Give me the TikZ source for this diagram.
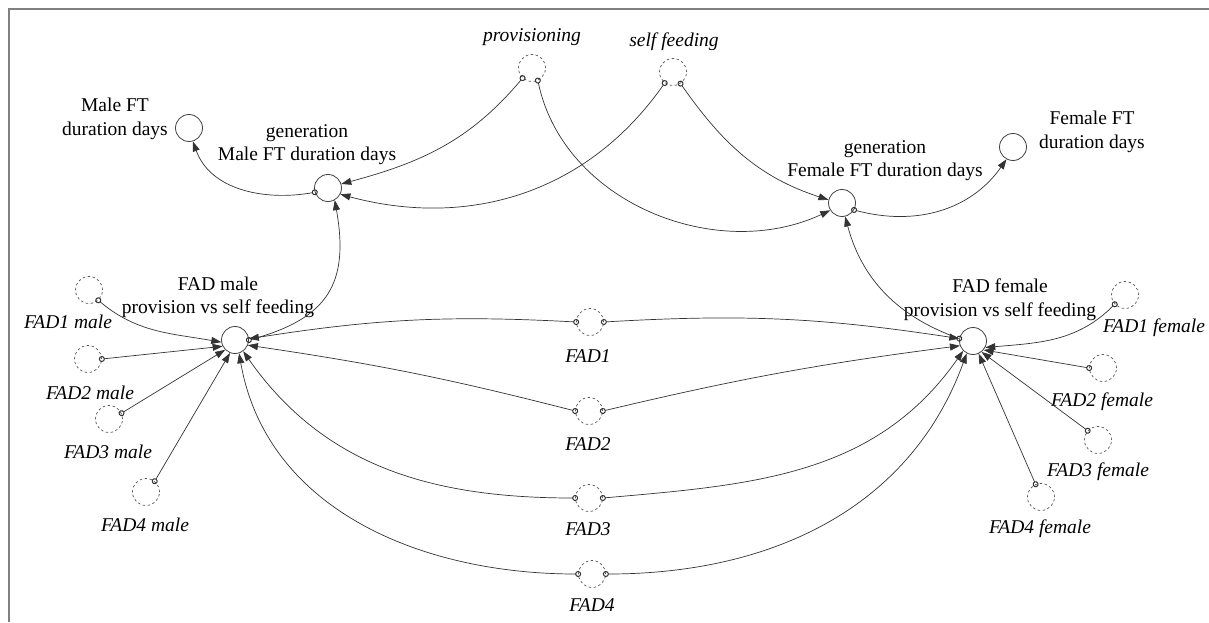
\documentclass[tikz,border=0pt]{standalone}
\usepackage{fontspec}
\setmainfont{Liberation Serif}
\usetikzlibrary{arrows.meta}
\tikzset{
  svar/.style={circle,draw=black!75,line width=0.8pt,minimum size=27pt,inner sep=0pt},
  gvar/.style={circle,draw=black!65,line width=0.7pt,dash pattern=on 2.5pt off 2.5pt,minimum size=27pt,inner sep=0pt},
  lbl/.style={align=center,inner sep=0pt,font=\fontsize{19.5}{23.5}\selectfont},
  ilbl/.style={align=center,inner sep=0pt,font=\fontsize{19.5}{23.5}\selectfont\itshape},
  conn/.style={draw=black!80,line width=0.7pt,shorten <=-3pt,{Circle[open,length=6pt,width=6pt,line width=1pt]}-{Triangle[length=10pt,width=7pt]}},
  frame/.style={draw=black!50,line width=2pt}
}
\begin{document}
\begin{tikzpicture}[x=1pt,y=1pt]
\useasboundingbox (0,0) rectangle (1209,622);
\draw[frame] (8.5,0) -- (8.5,613) -- (1209,613);

% variables
\node[svar] (mft) at (189,494) {};
\node[svar] (gm) at (328,434) {};
\node[gvar] (prov) at (532,554) {};
\node[gvar] (selff) at (673,550) {};
\node[svar] (gf) at (842,419) {};
\node[svar] (fft) at (1013,475) {};
\node[svar] (fm) at (235,282) {};
\node[svar] (ff) at (973,281) {};
\node[gvar] (m1) at (89,332) {};
\node[gvar] (m2) at (88,263) {};
\node[gvar] (m3) at (109,203) {};
\node[gvar] (m4) at (146,130) {};
\node[gvar] (f1) at (1125,327) {};
\node[gvar] (f2) at (1103,254) {};
\node[gvar] (f3) at (1098,182) {};
\node[gvar] (f4) at (1041,125) {};
\node[gvar] (d1) at (590,300) {};
\node[gvar] (d2) at (589,211) {};
\node[gvar] (d3) at (589,124) {};
\node[gvar] (d4) at (592,48) {};

% labels
\node[lbl] (mftl) at (115,503) {Male FT\\duration days};
\node[lbl] (gml) at (307,477.5) {generation\\Male FT duration days};
\node[ilbl] (provl) at (532,585) {provisioning};
\node[ilbl] (selffl) at (674,580) {self feeding};
\node[lbl] (gfl) at (885,461.5) {generation\\Female FT duration days};
\node[lbl] (fftl) at (1092,490) {Female FT\\duration days};
\node[lbl] (fml) at (218,324.5) {FAD male\\provision vs self feeding};
\node[lbl] (ffl) at (1000,322.5) {FAD female\\provision vs self feeding};
\node[ilbl] (m1l) at (68,300) {FAD1 male};
\node[ilbl] (m2l) at (90,229) {FAD2 male};
\node[ilbl] (m3l) at (108,170) {FAD3 male};
\node[ilbl] (m4l) at (145,97) {FAD4 male};
\node[ilbl] (f1l) at (1154,294) {FAD1 female};
\node[ilbl] (f2l) at (1102,220) {FAD2 female};
\node[ilbl] (f3l) at (1098,150) {FAD3 female};
\node[ilbl] (f4l) at (1040,93) {FAD4 female};
\node[ilbl] (d1l) at (588,266) {FAD1};
\node[ilbl] (d2l) at (588,178) {FAD2};
\node[ilbl] (d3l) at (588,93) {FAD3};
\node[ilbl] (d4l) at (592,17) {FAD4};

% connectors
\draw[conn] (gm.198) to[out=190,in=-70] (mft.286);
\draw[conn] (prov.227) to[out=230,in=15] (gm.17);
\draw[conn] (selff.233) to[out=235,in=-15] (gm.333);
\draw[conn] (prov.295) to[out=-78,in=205] (gf.212);
\draw[conn] (selff.303) to[out=-55,in=162] (gf.167);
\draw[conn] (gf.330) to[out=-15,in=235] (fft.242);
\draw[conn] (fm.0) to[out=15,in=-80,looseness=1.3] (gm.299);
\draw[conn] (ff.170) to[out=160,in=-75] (gf.283);

\draw[conn] (m1.312) to[out=-40,in=170] (fm.189);
\draw[conn] (m2.0) -- (fm.207);
\draw[conn] (m3.25) -- (fm.225);
\draw[conn] (m4.51) -- (fm.249);

\draw[conn] (d1.180) to[bend right=6] (fm.5);
\draw[conn] (d1.0) to[bend left=6] (ff.170);
\draw[conn] (d2.180) to[bend right=3] (fm.338);
\draw[conn] (d2.0) to[bend left=3] (ff.200);
\draw[conn] (d3.180) to[out=180,in=-55] (fm.306);
\draw[conn] (d3.0) to[out=5,in=235] (ff.225);
\draw[conn] (d4.180) to[out=180,in=-80] (fm.287);
\draw[conn] (d4.0) to[out=0,in=250] (ff.243);

\draw[conn] (f1.222) to[out=225,in=5] (ff.332);
\draw[conn] (f2.180) -- (ff.320);
\draw[conn] (f3.138) -- (ff.308);
\draw[conn] (f4.113) -- (ff.294);
\end{tikzpicture}
\end{document}
